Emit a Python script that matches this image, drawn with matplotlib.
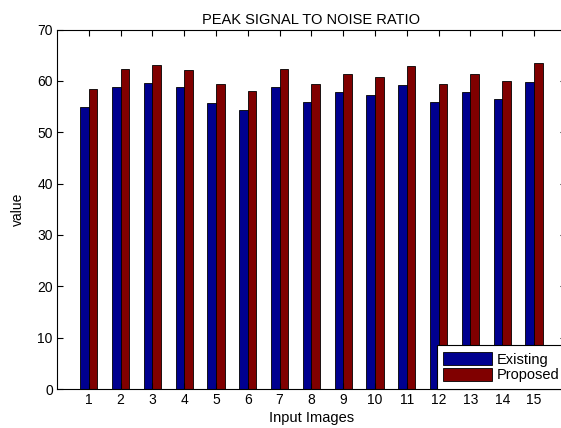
import matplotlib.pyplot as plt
import numpy as np

plt.rcParams['font.family'] = ['Liberation Sans', 'DejaVu Sans']

imagenes = list(range(1, 16))
existing = [55.0, 58.9, 59.6, 58.8, 55.6, 54.4, 58.9, 55.9, 57.9, 57.3, 59.2, 55.9, 57.9, 56.5, 59.7]
proposed = [58.5, 62.4, 63.1, 62.2, 59.3, 58.1, 62.4, 59.3, 61.4, 60.8, 62.9, 59.3, 61.4, 59.9, 63.5]

fig = plt.figure(figsize=(5.61, 4.28), dpi=100)
ax = fig.add_axes([0.1016, 0.091, 0.907, 0.840])

x = np.array(imagenes)
ancho = 0.27
ax.bar(x - ancho / 2, existing, ancho, color='#00008f', edgecolor='black', linewidth=0.6, label='Existing')
ax.bar(x + ancho / 2, proposed, ancho, color='#800000', edgecolor='black', linewidth=0.6, label='Proposed')

ax.set_xlim(0, 16)
ax.set_ylim(0, 70)
ax.set_xticks(imagenes)
ax.set_yticks(range(0, 71, 10))
ax.tick_params(direction='in', top=True, right=True, labelsize=10, length=4, width=0.8, pad=3)
for s in ax.spines.values():
    s.set_linewidth(0.8)

ax.set_title('PEAK SIGNAL TO NOISE RATIO', fontsize=10.5, pad=4)
ax.set_xlabel('Input Images', fontsize=10.5, labelpad=3)
ax.set_ylabel('value', fontsize=10, labelpad=9)

leg = ax.legend(loc='lower right', bbox_to_anchor=(1.0, 0.0), fontsize=10.5, fancybox=False,
                edgecolor='black', framealpha=1, borderaxespad=0, handlelength=3.35,
                handleheight=1.0, handletextpad=0.3, labelspacing=0.1, borderpad=0.45)
leg.get_frame().set_linewidth(0.8)

plt.savefig('out.png', dpi=100)
